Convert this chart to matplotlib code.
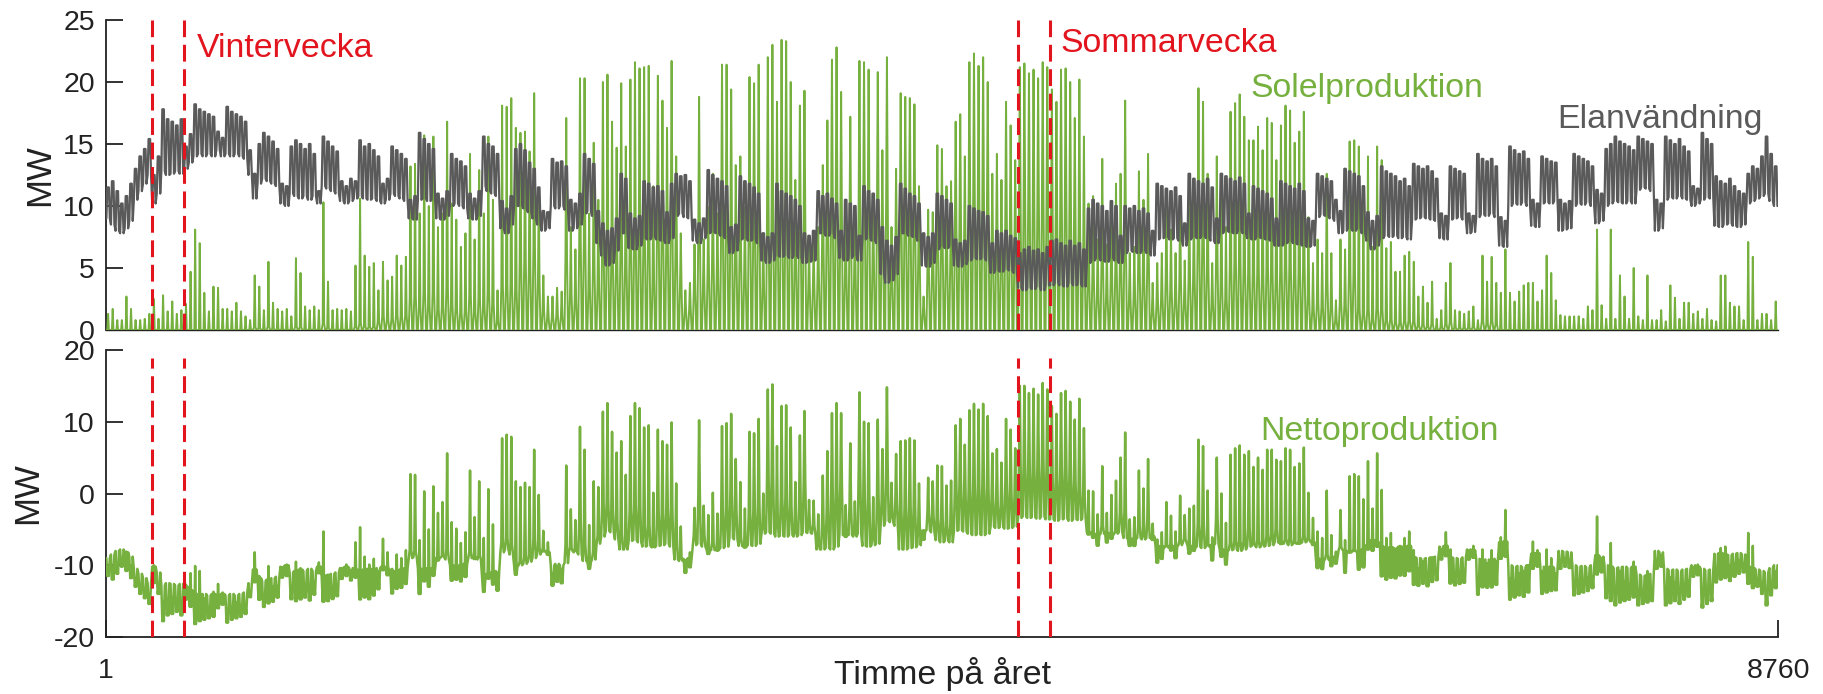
import numpy as np
import matplotlib
matplotlib.use("Agg")
import matplotlib.pyplot as plt

plt.rcParams['font.family'] = ['Liberation Sans', 'DejaVu Sans']
plt.rcParams['axes.unicode_minus'] = False

# ---------------- data (one value per day) ----------------
# daily peak of solar production, MW (day 0 .. 364)
SOLAR_PEAK = [
    1.3, 1.7, 0.8, 0.8, 2.7, 1.7, 0.8, 0.8, 0.9, 1.3,
    2.5, 0.9, 2.8, 1.5, 2.3, 1.3, 1.6, 2.1, 4.7, 8.1,
    7.0, 3.0, 1.5, 3.5, 3.4, 1.7, 1.7, 1.5, 2.2, 1.5,
    1.1, 0.8, 4.4, 3.5, 1.6, 5.5, 2.2, 1.7, 1.5, 1.7,
    1.1, 5.8, 4.6, 1.9, 1.6, 1.9, 1.6, 10.3, 3.9, 1.6,
    1.7, 1.6, 1.7, 1.5, 5.2, 10.6, 6.0, 5.1, 5.4, 3.2,
    5.5, 4.0, 4.3, 6.0, 5.2, 5.9, 13.2, 13.4, 9.4, 15.7,
    10.0, 15.6, 8.3, 9.4, 16.8, 10.2, 8.9, 6.7, 7.8, 14.2,
    7.3, 12.9, 9.4, 15.6, 10.5, 3.2, 18.1, 18.0, 18.7, 16.3,
    15.9, 16.0, 14.4, 19.1, 11.3, 4.4, 2.7, 2.7, 3.4, 3.1,
    17.1, 8.3, 6.5, 20.3, 20.3, 9.4, 15.1, 10.5, 20.0, 20.6,
    16.8, 14.7, 19.9, 14.8, 20.2, 21.6, 21.1, 21.2, 21.3, 11.6,
    20.5, 18.5, 16.3, 21.7, 14.0, 7.8, 3.2, 3.8, 6.9, 18.8,
    7.3, 9.9, 12.6, 9.4, 21.4, 21.4, 19.4, 13.3, 14.0, 9.9,
    20.4, 19.9, 21.4, 7.8, 22.0, 23.0, 18.4, 23.4, 23.3, 20.0,
    12.1, 18.1, 19.3, 6.7, 7.0, 8.3, 13.3, 16.9, 21.8, 22.8,
    19.2, 8.9, 17.2, 8.9, 21.7, 21.6, 21.0, 10.5, 20.8, 14.5,
    22.0, 8.3, 13.0, 19.1, 18.8, 18.7, 18.2, 11.6, 2.7, 9.7,
    9.5, 14.9, 14.6, 11.6, 12.0, 16.8, 17.4, 14.0, 21.6, 22.3,
    21.3, 22.0, 20.0, 12.6, 14.2, 12.1, 18.4, 16.5, 13.7, 21.2,
    21.5, 20.7, 21.0, 20.3, 21.6, 21.2, 19.4, 18.4, 21.0, 21.1,
    20.0, 17.1, 20.2, 15.6, 10.2, 10.8, 7.3, 13.8, 6.9, 10.2,
    11.8, 12.6, 18.5, 6.2, 6.7, 12.8, 10.5, 14.2, 3.8, 5.4,
    6.2, 10.2, 8.1, 6.2, 10.5, 5.6, 10.5, 10.5, 19.5, 18.4,
    12.6, 5.4, 14.0, 12.6, 8.3, 17.6, 18.3, 19.0, 17.2, 15.3,
    15.3, 16.4, 14.5, 17.1, 16.7, 13.7, 16.5, 18.1, 17.7, 15.1,
    16.0, 17.6, 9.1, 5.4, 7.3, 6.2, 12.6, 6.2, 2.4, 7.3,
    6.5, 15.2, 15.3, 14.8, 10.8, 14.0, 6.7, 14.8, 13.7, 6.6,
    7.1, 4.7, 4.7, 6.0, 6.3, 5.5, 2.7, 3.5, 2.2, 3.9,
    0.9, 1.6, 3.8, 5.4, 1.6, 1.5, 1.3, 1.5, 1.9, 0.8,
    6.0, 3.9, 5.9, 3.8, 3.0, 6.5, 3.0, 2.3, 3.1, 3.6,
    3.8, 3.8, 2.3, 3.2, 6.0, 4.6, 2.4, 1.2, 1.1, 1.1,
    1.1, 1.1, 0.9, 1.9, 1.6, 8.1, 2.0, 0.9, 8.1, 0.9,
    4.4, 2.7, 0.9, 5.0, 1.1, 0.8, 4.4, 0.8, 0.8, 1.6,
    0.7, 3.6, 2.6, 0.9, 2.2, 2.2, 1.3, 1.5, 0.9, 1.7,
    0.8, 0.7, 4.4, 4.4, 2.2, 1.9, 1.9, 0.8, 7.1, 5.9,
    0.8, 1.3, 1.3, 0.8, 2.3,
]

# share of the daily solar peak produced at 08 and 16 o'clock, per month
SOLAR_SHOULDER = [0.0, 0.05, 0.2, 0.35, 0.45, 0.5, 0.5, 0.4, 0.3, 0.12, 0.0, 0.0]
MONTH_DAYS = [31, 28, 31, 30, 31, 30, 31, 31, 30, 31, 30, 31]

# daily night-time (low) electricity use, MW
LOAD_LO = [
    9.0, 8.5, 8.0, 7.8, 8.2, 8.8, 10.5, 11.2, 11.8, 12.5,
    10.2, 11.0, 12.8, 12.5, 12.6, 12.8, 12.6, 13.0, 13.5, 14.0,
    14.2, 14.0, 14.2, 14.0, 14.5, 14.0, 14.2, 14.0, 14.2, 14.0,
    13.8, 12.5, 10.6, 11.8, 12.2, 12.0, 11.8, 11.6, 10.2, 10.0,
    11.0, 10.8, 10.6, 10.8, 10.5, 10.8, 10.2, 11.6, 11.4, 11.2,
    11.0, 10.4, 10.2, 10.4, 10.6, 10.8, 10.6, 10.5, 10.6, 10.4,
    10.2, 10.5, 11.0, 10.8, 10.6, 10.4, 9.0, 8.9, 10.5, 10.6,
    10.4, 10.5, 9.0, 8.9, 9.2, 10.0, 10.2, 10.0, 9.8, 9.0,
    8.9, 9.2, 11.6, 11.2, 11.0, 10.8, 8.2, 7.8, 8.5, 10.0,
    10.0, 9.8, 9.5, 9.0, 8.5, 8.0, 8.2, 10.0, 9.8, 10.0,
    9.7, 8.0, 8.2, 8.5, 9.4, 9.6, 9.2, 7.0, 6.0, 5.2,
    5.4, 6.4, 7.8, 7.8, 6.6, 6.5, 6.8, 7.4, 7.3, 7.5,
    7.3, 7.2, 7.0, 7.4, 9.2, 9.4, 9.1, 9.0, 7.2, 7.0,
    7.4, 7.8, 7.9, 7.8, 7.6, 7.4, 6.2, 6.4, 7.3, 7.4,
    7.2, 7.3, 7.0, 5.6, 5.4, 5.6, 6.0, 5.9, 6.0, 5.8,
    6.0, 5.8, 5.4, 5.5, 5.6, 7.8, 7.8, 7.6, 7.8, 7.4,
    5.8, 5.6, 5.8, 6.0, 5.6, 7.3, 7.4, 7.2, 7.0, 4.5,
    3.8, 4.0, 4.5, 7.8, 7.8, 7.6, 7.5, 7.2, 5.2, 5.1,
    5.4, 6.5, 6.8, 6.6, 6.8, 5.2, 5.1, 5.3, 5.6, 5.8,
    5.7, 5.8, 5.6, 4.6, 4.8, 4.7, 4.9, 4.8, 4.6, 3.4,
    3.2, 3.4, 3.3, 3.5, 3.2, 3.6, 3.6, 3.8, 3.6, 3.5,
    3.8, 3.6, 3.7, 3.5, 5.4, 5.6, 5.8, 5.6, 5.5, 5.8,
    5.6, 5.4, 6.2, 6.4, 6.3, 6.2, 6.4, 6.2, 6.0, 7.3,
    7.4, 7.5, 7.3, 7.4, 7.2, 6.8, 7.3, 7.5, 7.4, 7.6,
    7.4, 7.2, 7.0, 7.8, 8.0, 7.9, 7.8, 8.0, 7.8, 7.4,
    7.3, 7.5, 7.4, 7.3, 7.2, 6.8, 6.8, 7.0, 7.2, 7.0,
    6.9, 6.8, 6.7, 6.8, 9.1, 9.3, 9.2, 9.0, 8.8, 7.8,
    8.0, 8.2, 8.0, 8.2, 7.8, 7.2, 6.5, 6.8, 7.4, 7.6,
    7.5, 7.6, 7.4, 7.5, 7.3, 8.9, 9.0, 9.1, 9.0, 8.9,
    8.8, 7.4, 7.3, 8.9, 9.0, 9.1, 8.9, 7.8, 7.9, 9.1,
    9.3, 9.2, 9.4, 9.1, 6.8, 6.7, 10.0, 10.2, 10.1, 10.3,
    10.0, 8.4, 8.3, 10.2, 10.3, 10.2, 10.4, 8.0, 8.1, 8.2,
    10.0, 10.2, 10.1, 10.3, 10.0, 8.6, 8.8, 10.0, 10.2, 10.4,
    10.3, 10.2, 10.4, 10.2, 11.3, 11.5, 11.4, 11.2, 8.0, 8.2,
    10.5, 10.7, 10.6, 10.8, 10.6, 10.5, 10.0, 10.2, 10.5, 10.7,
    10.6, 8.4, 8.3, 8.5, 8.6, 8.4, 8.3, 8.5, 10.2, 10.4,
    10.6, 10.8, 11.0, 10.4, 10.0,
]

# daily day-time (high) electricity use, MW
LOAD_HI = [
    11.5, 12.0, 11.2, 10.2, 10.8, 11.8, 13.0, 14.0, 14.6, 15.4,
    12.5, 14.0, 17.8, 17.0, 16.8, 16.5, 17.0, 14.8, 15.8, 18.2,
    17.8, 17.6, 17.4, 17.2, 16.0, 15.5, 18.0, 17.6, 17.4, 17.2,
    16.8, 14.5, 12.6, 15.0, 15.9, 15.6, 15.2, 14.6, 11.8, 11.6,
    14.8, 15.3, 15.0, 14.6, 15.0, 14.2, 11.2, 15.6, 15.2, 14.8,
    14.4, 12.0, 11.6, 12.2, 12.0, 15.3, 14.8, 15.0, 14.5, 14.0,
    11.8, 12.2, 14.8, 14.5, 14.2, 13.8, 10.5, 10.8, 15.9, 15.4,
    15.0, 14.6, 11.0, 10.6, 11.2, 14.2, 13.8, 13.6, 13.2, 11.0,
    10.6, 11.2, 15.6, 15.0, 14.8, 14.2, 10.4, 9.8, 10.8, 14.6,
    15.0, 14.5, 13.5, 13.0, 11.5, 9.6, 9.5, 13.8, 13.5, 13.6,
    13.2, 10.5, 10.2, 11.0, 14.2, 13.8, 13.4, 9.6, 8.6, 8.0,
    8.2, 9.0, 12.6, 12.2, 9.4, 9.0, 9.2, 12.0, 11.8, 11.5,
    11.6, 11.2, 9.5, 11.8, 12.6, 12.4, 12.5, 12.0, 8.9, 8.6,
    9.0, 12.9, 12.5, 12.2, 12.0, 11.6, 8.3, 8.5, 12.4, 12.0,
    11.8, 11.5, 11.0, 7.8, 7.5, 7.8, 11.8, 11.2, 11.0, 10.8,
    10.5, 10.0, 7.8, 7.6, 8.0, 11.2, 10.8, 11.0, 10.6, 10.2,
    8.0, 10.5, 10.2, 10.0, 7.6, 11.6, 11.2, 11.0, 10.5, 8.3,
    7.2, 6.8, 7.5, 11.8, 11.4, 11.0, 10.8, 10.2, 7.8, 7.5,
    7.8, 11.0, 10.8, 10.5, 10.2, 7.3, 7.0, 7.2, 10.0, 9.8,
    9.6, 9.5, 9.2, 7.0, 8.0, 7.8, 8.0, 7.6, 7.4, 6.2,
    6.5, 6.7, 6.4, 6.5, 6.2, 6.7, 7.2, 7.3, 7.0, 6.8,
    7.2, 6.8, 7.0, 6.5, 9.8, 10.5, 10.2, 10.0, 9.6, 10.4,
    10.0, 7.6, 10.0, 9.8, 10.0, 9.6, 9.8, 9.4, 8.0, 11.8,
    11.6, 11.4, 11.2, 11.5, 10.8, 8.6, 12.6, 12.2, 12.0, 11.8,
    12.2, 11.5, 9.0, 12.6, 12.4, 12.2, 12.0, 12.3, 11.8, 9.4,
    11.6, 11.4, 11.2, 11.0, 10.6, 9.0, 12.0, 11.8, 11.6, 11.4,
    11.8, 11.2, 9.0, 8.8, 12.6, 12.4, 12.2, 12.0, 10.5, 9.6,
    13.0, 12.8, 12.6, 12.4, 11.6, 9.5, 8.8, 9.2, 13.2, 12.8,
    12.6, 12.4, 12.0, 12.2, 11.6, 13.4, 13.2, 13.0, 13.2, 12.8,
    12.2, 9.4, 9.2, 13.2, 13.0, 12.8, 12.6, 9.4, 9.2, 14.2,
    13.8, 13.6, 13.8, 13.2, 9.1, 8.8, 14.8, 14.5, 14.2, 14.4,
    13.8, 10.5, 10.2, 14.0, 13.8, 13.6, 13.5, 10.5, 10.2, 10.4,
    14.2, 14.0, 13.8, 13.6, 13.2, 11.3, 11.0, 14.6, 15.0, 15.6,
    15.2, 15.0, 14.8, 14.5, 15.6, 15.4, 15.2, 15.0, 10.5, 10.2,
    15.6, 15.3, 15.0, 15.4, 14.8, 14.4, 11.6, 11.4, 15.9, 15.4,
    15.0, 12.4, 12.0, 11.8, 12.2, 11.6, 11.2, 11.0, 12.6, 13.2,
    13.0, 14.0, 15.6, 14.2, 13.2,
]

WEEK_LINES = [241, 409, 4777, 4945]     # hour of year: winter week, summer week
X_TICKS = [1, 8760]
X_TICK_LABELS = ['1', '8760']
TOP_YTICKS = [0, 5, 10, 15, 20, 25]
BOT_YTICKS = [-20, -10, 0, 10, 20]

# ---------------- hourly time axis built from the daily values ----------------
solar_peak = np.asarray(SOLAR_PEAK)
lo = np.asarray(LOAD_LO)
hi = np.asarray(LOAD_HI)
n_days = len(solar_peak)
shoulder = np.repeat(SOLAR_SHOULDER, MONTH_DAYS) * solar_peak
day_idx = np.arange(n_days)
offsets = np.array([3, 8, 12, 16, 21])   # hour within the day
hours = (day_idx[:, None] * 24 + offsets[None, :]).ravel()
zeros = np.zeros(n_days)
solar = np.column_stack([zeros, shoulder, solar_peak, shoulder, zeros]).ravel()
load = np.column_stack([lo, hi, hi, hi, lo]).ravel()

hours = np.concatenate([[1], hours, [8760]])
solar = np.concatenate([[0.0], solar, [0.0]])
load = np.concatenate([[lo[0]], load, [lo[-1]]])
net = solar - load

GREEN = '#76b03f'
GRAY = '#5a5a5a'
RED = '#e2141e'
DARK = '#222222'

fig = plt.figure(figsize=(18.23, 6.94), dpi=100)
ax1 = fig.add_axes([0.05815, 0.5245, 0.91717, 0.44669])
ax2 = fig.add_axes([0.05815, 0.08213, 0.91717, 0.41354])

# ---- top panel ----
ax1.plot(hours, solar, color=GREEN, lw=1.4, zorder=3)
ax1.plot(hours, load, color=GRAY, lw=1.6, zorder=4)
for h in WEEK_LINES:
    ax1.axvline(h, color=RED, lw=2.2, ls=(0, (5.5, 2.5)), zorder=5)
ax1.set_xlim(1, 8760)
ax1.set_ylim(0, 25)
ax1.set_yticks(TOP_YTICKS)
ax1.set_xticks([])
ax1.tick_params(axis='y', direction='in', length=12, width=1.3, labelsize=20.5,
                pad=8, colors=DARK)
for s in ['top', 'right']:
    ax1.spines[s].set_visible(False)
ax1.spines['left'].set_linewidth(1.3)
ax1.spines['left'].set_color(DARK)
ax1.spines['bottom'].set_linewidth(1.0)
ax1.spines['bottom'].set_color(DARK)
ax1.set_ylabel('MW', fontsize=25, color=DARK, va='center')
ax1.yaxis.set_label_coords(-0.040, 0.5)

ax1.text(478, 22.0, 'Vintervecka', color=RED, fontsize=24.4, va='baseline', zorder=6)
ax1.text(4999, 22.4, 'Sommarvecka', color=RED, fontsize=24.4, va='baseline', zorder=6)
ax1.text(5994, 18.8, 'Solelproduktion', color=GREEN, fontsize=24.4, va='baseline', zorder=6)
ax1.text(7602, 16.3, 'Elanvändning', color=GRAY, fontsize=24.4, va='baseline', zorder=6)

# ---- bottom panel ----
ax2.plot(hours, net, color=GREEN, lw=1.8, zorder=3)
for h in WEEK_LINES:
    ax2.axvline(h, ymin=0, ymax=0.972, color=RED, lw=2.2, ls=(0, (5.5, 2.5)), zorder=5)
ax2.set_xlim(1, 8760)
ax2.set_ylim(-20, 20)
ax2.set_yticks(BOT_YTICKS)
ax2.set_xticks(X_TICKS)
ax2.set_xticklabels(X_TICK_LABELS)
ax2.tick_params(axis='both', direction='in', length=12, width=1.3, labelsize=20.5,
                colors=DARK)
ax2.tick_params(axis='y', pad=8)
ax2.tick_params(axis='x', pad=15)
for s in ['top', 'right']:
    ax2.spines[s].set_visible(False)
for s in ['left', 'bottom']:
    ax2.spines[s].set_linewidth(1.3)
    ax2.spines[s].set_color(DARK)
ax2.set_ylabel('MW', fontsize=25, color=DARK, va='center')
ax2.yaxis.set_label_coords(-0.047, 0.5)
ax2.set_xlabel('Timme på året', fontsize=24.4, color=DARK)
ax2.xaxis.set_label_coords(0.5, -0.07)
ax2.text(6047, 7.46, 'Nettoproduktion', color=GREEN, fontsize=24.4, va='baseline', zorder=6)

fig.savefig('out.png', dpi=100)
